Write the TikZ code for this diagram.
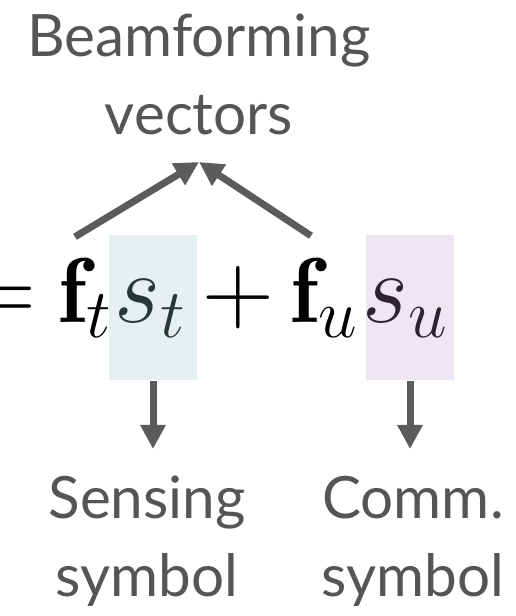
\documentclass[tikz,border=0pt]{standalone}
\usepackage{amsmath}
\usepackage{fontspec}
\newfontfamily\labelfont{Lato}
\usepackage{tikz}
\usetikzlibrary{arrows.meta}
\definecolor{arrgray}{RGB}{89,92,90}
\definecolor{txtgray}{RGB}{85,85,85}
\definecolor{tbg}{RGB}{229,240,242}
\definecolor{ubg}{RGB}{239,230,244}
\definecolor{tsym}{RGB}{40,56,58}
\definecolor{usym}{RGB}{46,34,48}

\begin{document}
\begin{tikzpicture}[x=0.25pt,y=-0.25pt,
        lbl/.style={font=\labelfont\fontsize{14.6}{19.5}\selectfont,text=txtgray,align=center,inner sep=6.5pt},
        eqn/.style={font=\fontsize{23}{27}\selectfont,anchor=base,inner sep=0pt},
        shade/.style={minimum width=22pt,minimum height=36.25pt,inner sep=0pt},
        arr/.style={draw=arrgray,line width=1.75pt,-{Triangle[length=6pt,width=6pt]}}]
        \useasboundingbox (0,0) rectangle (515,616);
        \node[shade,fill=tbg] (tbox) at (153,307.5) {};
        \node[shade,fill=ubg] (ubox) at (410,307.5) {};
        \node[eqn] (eqsign) at (0,323) {$=$};
        \node[eqn] (ft) at (86,323) {$\mathbf{f}_t$};
        \node[eqn,text=tsym] (st) at (151,323) {$s_t$};
        \node[eqn] (plus) at (238,323) {$+$};
        \node[eqn] (fu) at (325,323) {$\mathbf{f}_u$};
        \node[eqn,text=usym] (su) at (406,323) {$s_u$};
        \node[lbl,anchor=south] (beam) at (199,162) {Beamforming\\vectors};
        \node[lbl,anchor=north] (sens) at (147,449) {Sensing\\symbol};
        \node[lbl,anchor=north] (comm) at (413,449) {Comm.\\symbol};
        \draw[arr] ([shift={(-11,-21)}]ft.north) -- (beam.south);
        \draw[arr] ([shift={(-14,-22)}]fu.north) -- (beam.south);
        \draw[arr] (tbox.south) -- (tbox.south |- sens.north);
        \draw[arr] (ubox.south) -- (ubox.south |- comm.north);
    \end{tikzpicture}
\end{document}
